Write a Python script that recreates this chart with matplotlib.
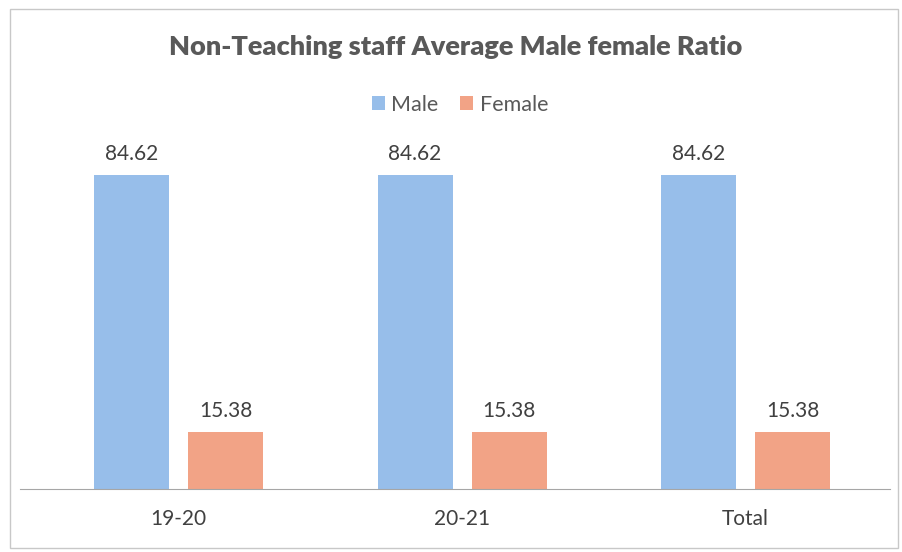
import matplotlib.pyplot as plt
import numpy as np

plt.rcParams["font.family"] = ["Lato", "DejaVu Sans"]

years = ["19-20", "20-21", "Total"]
male = [84.62, 84.62, 84.62]
female = [15.38, 15.38, 15.38]

male_colour = "#97BEEA"
female_colour = "#F2A386"
text_colour = "#595959"

fig = plt.figure(figsize=(9.02, 5.52), dpi=100)
ax = fig.add_axes([0.022, 0.114, 0.965, 0.605])

x = np.arange(len(years))
width = 0.264
offset = 0.166

bars_m = ax.bar(x - offset, male, width, color=male_colour, label="Male")
bars_f = ax.bar(x + offset, female, width, color=female_colour, label="Female")

for bars in (bars_m, bars_f):
    ax.bar_label(bars, labels=[f"{v:.2f}" for v in bars.datavalues],
                 padding=8, fontsize=15, color="#404040")

ax.set_xlim(-0.56, 2.51)
ax.set_ylim(0, 90)
ax.set_xticks(x)
ax.set_xticklabels(years, fontsize=15, color="#404040")
ax.tick_params(axis="x", length=0, pad=14)
ax.set_yticks([])
for side in ("top", "right", "left"):
    ax.spines[side].set_visible(False)
ax.spines["bottom"].set_color("#A6A6A6")

fig.text(0.505, 0.915, "Non-Teaching staff Average Male female Ratio",
         ha="center", va="center", fontsize=19.5, fontweight="heavy",
         color=text_colour)
fig.legend(loc="center", bbox_to_anchor=(0.51, 0.81), ncol=2, frameon=False,
           fontsize=15.5, labelcolor=text_colour, handlelength=0.6,
           handleheight=0.6, handletextpad=0.3, columnspacing=1.0)

# thin outer frame of the chart area
fig.add_artist(plt.Rectangle((0.011, 0.008), 0.985, 0.975, fill=False,
                             edgecolor="#C8C8C8", lw=1.0,
                             transform=fig.transFigure))

fig.savefig("out.png", dpi=100)
